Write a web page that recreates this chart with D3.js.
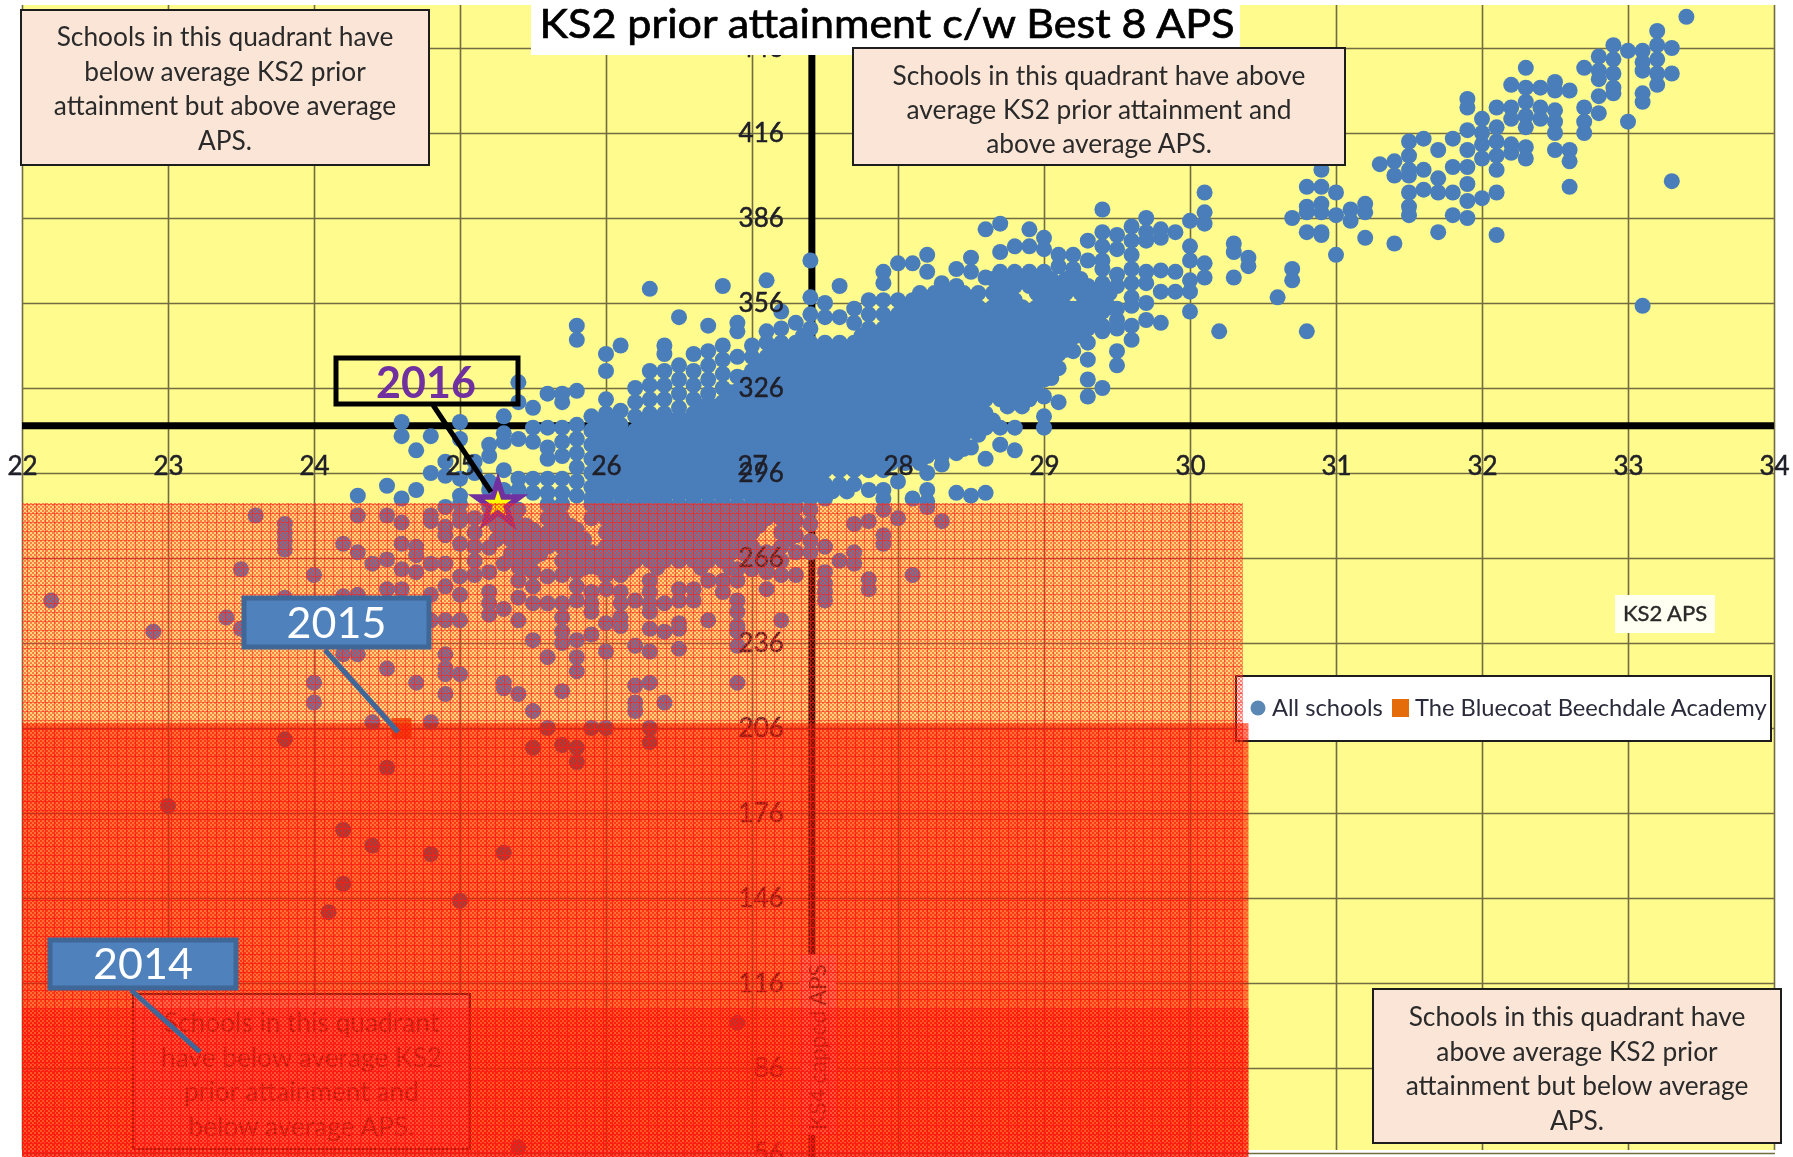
<!DOCTYPE html>
<html lang="en">
  <head>
    <meta charset="UTF-8">
    <title>KS2 prior attainment c/w Best 8 APS</title>
    <style>
html, body{
    margin: 0;
    padding: 0;
    background: #fff;
    overflow: hidden;
}
svg{
    display: block;
}
text{
    font-family: Lato, "Open Sans", sans-serif;
}
    </style>
  </head>
  <body>
    <script src="https://cdn.jsdelivr.net/npm/d3@7/dist/d3.min.js" charset="UTF-8"></script>
    <script>
var xTicks = [22, 23, 24, 25, 26, 27, 28, 29, 30, 31, 32, 33, 34];
var yTicks = [56, 86, 116, 146, 176, 206, 236, 266, 296, 326, 356, 386, 416, 446];
var averageKs2 = 27.41, averageAps = 312.7;
var academy2015 = [24.6, 206];
var academy2016 = [25.26, 285];
var bandTops = [285.4, 207.7, 107];
var bandEnds = [30.36, 30.4, 30.4];

// [KS2 APS, [capped APS ...]], below the red line
var lowerSchools = [
    [22.2, [251]], [22.9, [240]], [23.0, [178.5]], [23.4, [245]], [23.5, [262, 241]], [23.6, [281]],
    [23.8, [278, 275, 272, 269, 252, 202]], [24.0, [260, 222, 215]], [24.1, [141]],
    [24.2, [271, 252.5, 232, 170, 151]], [24.3, [281, 268, 253, 232]], [24.4, [264, 208, 164.5]],
    [24.5, [281, 265.5, 255, 227, 192]], [24.6, [278.5, 271, 262, 255]], [24.7, [270, 267, 261, 222]],
    [24.8, [281, 279, 264, 253, 244, 208, 161.5]], [24.9, [284, 277, 274, 264, 256, 244, 232, 227, 225, 218]],
    [25.0, [285, 281, 279, 271, 259.5, 253, 244, 225, 145]], [25.1, [280, 275, 270, 265, 260]],
    [25.2, [284, 280, 269.6, 261, 254, 250, 246]], [25.3, [284, 279, 274, 264, 248, 222, 220, 162]],
    [25.4, [283, 278, 273, 268, 263, 258, 252, 244, 218, 58]], [25.5, [276, 271, 266, 261, 256, 250, 237, 212, 199]],
    [25.6, [285, 280, 275, 270, 259.5, 250, 231, 206]], [25.7, [285, 280, 275, 270, 265, 260, 250, 245, 240, 236, 219, 200]],
    [25.8, [276, 271, 266, 261, 256, 251, 237, 231, 226, 199, 194]], [25.9, [285, 280, 268, 263, 254, 250, 247, 239, 206]],
    [26.0, [285, 280, 275, 270, 265, 260, 255, 243, 233, 206]], [26.1, [285, 280, 275, 270, 265, 260, 254, 250, 245, 242]],
    [26.2, [285, 280, 275, 270, 265, 251, 235, 221, 215, 212]], [26.3, [285, 280, 275, 270, 265, 258, 254, 250, 247, 241, 233, 222, 206, 201]],
    [26.4, [285, 280, 275, 270, 265, 250, 240, 215]], [26.5, [285, 280, 275, 270, 265, 255, 251, 243, 241, 234]],
    [26.6, [285, 280, 275, 270, 265, 255, 251]], [26.7, [285, 280, 275, 270, 265, 258, 244]],
    [26.8, [285, 280, 275, 270, 265, 258, 254]], [26.9, [285, 280, 275, 270, 262, 258, 251, 247, 242, 240, 235, 222, 102]],
    [27.0, [285, 280, 275, 270, 265, 262]], [27.1, [285, 280, 268, 263, 261, 255]], [27.2, [285, 280, 275, 270, 265, 260, 244]],
    [27.3, [284, 279, 274, 268, 260]], [27.4, [283, 278, 272, 268]], [27.5, [270, 261, 257, 254, 251]], [27.6, [265]],
    [27.7, [278, 268, 264]], [27.8, [279, 258.5, 255]], [27.9, [283, 274, 271]], [28.0, [280]], [28.1, [260]],
    [28.2, [284]], [28.3, [279]]
];

// between the 0.1 columns in the crowded part under the red line
var lowerCoreSchools = [
    [25.25, [277.5, 272.5]], [25.35, [282.5, 277.5, 272.5, 267.5]], [25.45, [277.5, 272.5, 267.5, 262.5]],
    [25.55, [272.5, 267.5]], [25.65, [282.5, 277.5, 272.5]], [25.75, [277.5, 272.5, 267.5, 262.5]],
    [25.85, [272.5, 267.5, 262.5]], [25.95, [282.5, 267.5, 262.5]], [26.05, [282.5, 277.5, 272.5, 267.5, 262.5]],
    [26.15, [282.5, 277.5, 272.5, 267.5, 262.5]], [26.25, [282.5, 277.5, 272.5, 267.5]], [26.35, [282.5, 277.5, 272.5, 267.5, 262.5]],
    [26.45, [282.5, 277.5, 272.5, 267.5]], [26.55, [282.5, 277.5, 272.5, 267.5]], [26.65, [282.5, 277.5, 272.5, 267.5, 262.5]],
    [26.75, [282.5, 277.5, 272.5, 267.5]], [26.85, [282.5, 277.5, 272.5, 267.5, 262.5]], [26.95, [282.5, 277.5, 272.5, 267.5]],
    [27.05, [282.5, 277.5, 267.5]], [27.15, [282.5, 267.5]], [27.25, [282.5, 277.5, 272.5]]
];

// the main band, above the red line
var mainSchools = [
    [24.3, [288]], [24.5, [291.5]], [24.6, [314, 309, 287]], [24.7, [304, 290]], [24.8, [309, 296]], [24.9, [300, 295]],
    [25.0, [314, 308, 294, 288]], [25.1, [300, 296]], [25.2, [306, 302, 293, 290]], [25.3, [316, 310, 307, 297, 290]],
    [25.4, [328, 321, 308, 294, 290]], [25.5, [319, 312, 307, 294, 289]], [25.6, [324, 312, 305, 301, 294, 289]],
    [25.7, [324, 321, 312, 307, 302, 294, 289]], [25.8, [348, 343, 325, 313, 308, 303, 298, 293, 288]],
    [25.9, [316, 311, 306, 301, 296, 291, 287]], [26.0, [338, 332, 322, 317, 312, 307, 302, 297, 292, 287]],
    [26.1, [341, 318, 313, 308, 303, 298, 293, 288]], [26.2, [326, 321, 316, 311, 306, 301, 296, 291, 287]],
    [26.3, [361, 332, 327, 322, 317, 312, 307, 302, 297, 292, 287]], [26.4, [341, 338, 332, 327, 322, 317, 312, 307, 302, 297, 292, 287]],
    [26.5, [351, 334, 329, 324, 319, 314, 309, 304, 299, 294, 289]], [26.6, [338, 332, 327, 322, 317, 312, 307, 302, 297, 292, 287]],
    [26.7, [348, 339, 334, 329, 324, 319, 314, 309, 304, 299, 294, 289]], [26.8, [362, 341, 336, 331, 326, 321, 316, 311, 306, 301, 296, 291, 287]],
    [26.9, [349, 346, 337, 330, 325, 320, 315, 310, 305, 300, 295, 290]], [27.0, [341, 337, 332, 327, 322, 317, 312, 307, 302, 297, 292, 287]],
    [27.1, [364, 346, 342, 337, 332, 327, 322, 317, 312, 307, 302, 297, 292, 287]], [27.2, [353, 347, 342, 337, 332, 327, 322, 317, 312, 307, 302, 297, 292, 287]],
    [27.3, [349, 342, 337, 332, 327, 322, 317, 312, 307, 302, 297, 292, 287]], [27.4, [371, 358, 352, 347, 342, 337, 332, 327, 322, 317, 312, 307, 302, 297, 292, 287]],
    [27.5, [356, 351, 342, 337, 332, 327, 322, 317, 312, 307, 302, 297, 292, 287]], [27.6, [362, 351, 342, 337, 332, 327, 322, 317, 312, 307, 302, 297, 292]],
    [27.7, [354, 349, 342, 337, 332, 327, 322, 317, 312, 307, 302, 297, 292]], [27.8, [357, 352, 347, 342, 337, 332, 327, 322, 317, 312, 307, 302, 297, 290]],
    [27.9, [367, 363, 357, 352, 347, 342, 337, 332, 327, 322, 317, 312, 307, 302, 297, 290, 287]],
    [28.0, [370, 357, 352, 347, 342, 337, 332, 327, 322, 317, 312, 307, 302, 293]], [28.1, [370, 357, 352, 347, 342, 337, 332, 327, 322, 317, 312, 307, 302, 287]],
    [28.2, [373, 367, 357, 352, 347, 342, 337, 332, 327, 322, 317, 312, 307, 302, 296, 290, 286]],
    [28.3, [363, 357, 352, 347, 342, 337, 332, 327, 322, 317, 312, 307, 302, 299]], [28.4, [368, 362, 357, 352, 347, 342, 337, 332, 327, 322, 317, 312, 307, 303, 289]],
    [28.5, [372, 367, 357, 352, 347, 342, 337, 332, 327, 322, 317, 312, 305, 288]], [28.6, [382, 365, 352, 347, 342, 337, 332, 327, 322, 317, 312, 301, 289]],
    [28.7, [384, 374, 367, 362, 357, 352, 347, 342, 337, 332, 327, 322, 312, 306]], [28.8, [376, 367, 362, 357, 352, 347, 342, 337, 332, 327, 322, 312, 304]],
    [28.9, [382, 376, 367, 362, 352, 347, 342, 337, 332, 327, 322]], [29.0, [379, 375, 367, 362, 357, 352, 347, 342, 337, 333, 329, 323, 316, 312]],
    [29.1, [373, 369, 362, 357, 352, 347, 342, 338, 333, 321]], [29.2, [373, 368, 363, 354, 349, 344, 339]],
    [29.3, [378, 371, 362, 357, 352, 347, 342, 336, 329, 323]], [29.4, [389, 381, 376, 371, 368, 363, 358, 353, 348, 346, 326]],
    [29.5, [380, 375, 366, 362, 354, 350, 347, 339, 334]], [29.6, [383, 378, 373, 368, 363, 358, 355, 348, 343]],
    [29.7, [386, 381, 378, 367, 363, 356, 350]], [29.8, [382, 379, 367.5, 360, 349]], [29.9, [381, 367, 360]],
    [30.0, [385, 376, 371, 364, 360, 353]], [30.1, [395, 388, 384, 370, 365]], [30.2, [346]], [30.3, [377, 374, 365]], [30.4, [372, 369]],
    [30.6, [358]], [30.7, [386, 368, 364]], [30.8, [397, 390, 388, 381, 346]], [30.9, [403, 397, 391, 388, 381, 380]],
    [31.0, [395, 387, 373]], [31.1, [389, 385]], [31.2, [391, 388, 379]], [31.3, [405]], [31.4, [406, 401, 377]],
    [31.5, [413, 408, 403, 401, 395, 390, 387]], [31.6, [414, 403, 396]], [31.7, [410, 400, 395, 381]], [31.8, [414, 404, 395, 387]],
    [31.9, [428, 425, 417, 410, 404, 398, 392, 386]], [32.0, [421, 416, 412, 407, 393]], [32.1, [425, 418, 413, 408, 403, 395, 380]],
    [32.2, [433, 425, 421, 412, 409]], [32.3, [439, 432, 427, 422, 418, 411, 407]], [32.4, [432, 425, 421]],
    [32.5, [434, 431, 424, 420, 416, 410]], [32.6, [431, 410, 406, 397]], [32.7, [439, 425, 420, 416]],
    [32.8, [443, 438, 435, 429, 423]], [32.9, [447, 442, 437, 432, 430]], [33.0, [445, 420]],
    [33.1, [445, 441, 438, 430, 427, 355]], [33.2, [452, 447, 442, 437, 433]], [33.3, [446, 437, 399]], [33.4, [457]]
];

// schools between the 0.1 columns in the solid middle of the band
var coreSchools = [
    [25.95, [289.5, 294.5, 299.5, 304.5, 309.5, 314.5]], [26.05, [289.5, 294.5, 299.5, 304.5, 309.5, 314.5]],
    [26.15, [289.5, 294.5, 299.5, 304.5, 309.5]], [26.25, [289.5, 294.5, 299.5, 304.5, 309.5, 314.5]],
    [26.35, [289.5, 294.5, 299.5, 304.5, 309.5, 314.5]], [26.45, [289.5, 294.5, 299.5, 304.5, 309.5, 314.5]],
    [26.55, [289.5, 294.5, 299.5, 304.5, 309.5, 314.5]], [26.65, [289.5, 294.5, 299.5, 304.5, 309.5, 314.5, 319.5]],
    [26.75, [289.5, 294.5, 299.5, 304.5, 309.5, 314.5, 319.5]], [26.85, [289.5, 294.5, 299.5, 304.5, 309.5, 314.5, 319.5, 324.5]],
    [26.95, [289.5, 294.5, 299.5, 304.5, 309.5, 314.5, 319.5, 324.5, 329.5]], [27.05, [289.5, 294.5, 299.5, 304.5, 309.5, 314.5, 319.5, 324.5, 329.5, 334.5]],
    [27.15, [289.5, 294.5, 299.5, 304.5, 309.5, 314.5, 319.5, 324.5, 329.5, 334.5, 339.5]], [27.25, [289.5, 294.5, 299.5, 304.5, 309.5, 314.5, 319.5, 324.5, 329.5, 334.5, 339.5]],
    [27.35, [289.5, 294.5, 299.5, 304.5, 309.5, 314.5, 319.5, 324.5, 329.5, 334.5, 339.5, 344.5]], [27.45, [289.5, 294.5, 299.5, 304.5, 309.5, 314.5, 319.5, 324.5, 329.5, 334.5, 339.5]],
    [27.55, [289.5, 299.5, 304.5, 309.5, 314.5, 319.5, 324.5, 329.5, 334.5, 339.5]], [27.65, [289.5, 299.5, 304.5, 309.5, 314.5, 319.5, 324.5, 329.5, 334.5, 339.5]],
    [27.75, [299.5, 304.5, 309.5, 314.5, 319.5, 324.5, 329.5, 334.5, 339.5, 344.5]], [27.85, [299.5, 304.5, 309.5, 314.5, 319.5, 324.5, 329.5, 334.5, 339.5, 344.5]],
    [27.95, [299.5, 304.5, 309.5, 314.5, 319.5, 324.5, 329.5, 334.5, 339.5, 344.5, 349.5]], [28.05, [299.5, 304.5, 309.5, 314.5, 319.5, 324.5, 329.5, 334.5, 339.5, 344.5, 349.5, 354.5]],
    [28.15, [299.5, 304.5, 309.5, 314.5, 319.5, 324.5, 329.5, 334.5, 339.5, 344.5, 349.5, 354.5, 359.5]], [28.25, [304.5, 309.5, 314.5, 319.5, 324.5, 329.5, 334.5, 339.5, 344.5, 349.5, 354.5, 359.5]],
    [28.35, [304.5, 309.5, 314.5, 319.5, 324.5, 329.5, 334.5, 339.5, 344.5, 349.5, 354.5, 359.5]], [28.45, [304.5, 309.5, 314.5, 319.5, 324.5, 329.5, 334.5, 339.5, 344.5, 349.5, 354.5, 359.5]],
    [28.55, [309.5, 314.5, 319.5, 324.5, 329.5, 334.5, 339.5, 344.5, 349.5, 354.5, 359.5]], [28.65, [314.5, 324.5, 329.5, 334.5, 339.5, 344.5, 349.5, 354.5, 359.5, 364.5]],
    [28.75, [319.5, 324.5, 329.5, 334.5, 339.5, 344.5, 349.5, 354.5, 359.5, 364.5]], [28.85, [319.5, 324.5, 329.5, 334.5, 339.5, 344.5, 349.5, 354.5, 364.5]],
    [28.95, [324.5, 329.5, 334.5, 339.5, 344.5, 349.5, 354.5, 359.5, 364.5]], [29.05, [329.5, 334.5, 339.5, 344.5, 349.5, 354.5, 359.5, 364.5]],
    [29.15, [339.5, 344.5, 349.5, 354.5, 359.5, 364.5]], [29.25, [344.5, 349.5, 354.5, 359.5, 364.5]], [29.35, [349.5, 354.5, 359.5]], [29.45, [354.5, 359.5]]
];

var quadrantTopLeft = ["Schools in this quadrant have", "below average KS2 prior", "attainment but  above average", "APS."];
var quadrantTopRight = ["Schools in this quadrant have above", "average KS2 prior attainment and", "above average APS."];
var quadrantBottomLeft = ["Schools in this quadrant", "have below average KS2", "prior attainment and", "below average APS."];
var quadrantBottomRight = ["Schools in this quadrant have", "above average KS2 prior", "attainment but below average", "APS."];

var width = 1793, height = 1157;
var xScale = d3.scaleLinear().domain([22, 34]).range([22, 1774]);
var yScale = d3.scaleLinear().domain([56, 446]).range([1153, 48]);

var svg = d3.select("body").append("svg")
                           .attr("width", width)
                           .attr("height", height);

function two_tone(defs, id, base, cell){
    var p = defs.append("pattern")
                .attr("id", id)
                .attr("patternUnits", "userSpaceOnUse")
                .attr("width", 4)
                .attr("height", 4);
    p.append("rect").attr("width", 4).attr("height", 4).attr("fill", base);
    p.append("rect").attr("width", 2).attr("height", 2).attr("fill", cell);
    p.append("rect").attr("x", 2).attr("y", 2).attr("width", 2).attr("height", 2).attr("fill", cell);
}

function make_patterns(){
    var defs = svg.append("defs");
    two_tone(defs, "band0", "rgba(255,70,40,0.2)", "rgba(255,50,30,0.55)");
    two_tone(defs, "band1", "rgb(255,180,155)", "rgb(255,130,100)");
    two_tone(defs, "band2", "rgba(255,30,10,0.3)", "rgba(255,20,10,0.7)");

    var mesh = defs.append("pattern")
                   .attr("id", "mesh")
                   .attr("patternUnits", "userSpaceOnUse")
                   .attr("width", 9)
                   .attr("height", 9);
    mesh.append("rect").attr("width", 1).attr("height", 9).attr("fill", "rgba(255,25,25,0.5)");
    mesh.append("rect").attr("width", 9).attr("height", 1).attr("fill", "rgba(255,25,25,0.5)");
}

function draw_text_box(lines, left, top, right, bottom, firstLine, lineGap, size){
    svg.append("rect")
       .attr("x", left)
       .attr("y", top)
       .attr("width", right - left)
       .attr("height", bottom - top)
       .attr("fill", "#fbe5d6")
       .attr("stroke", "#1d1d1d")
       .attr("stroke-width", 2);
    svg.selectAll(null)
       .data(lines)
       .enter().append("text")
       .attr("x", (left + right) / 2)
       .attr("y", function(d, i){ return firstLine + i * lineGap; })
       .attr("text-anchor", "middle")
       .attr("font-size", size)
       .attr("fill", "#2a2a2a")
       .text(function(d){ return d; });
}

function draw_grid(){
    svg.append("rect")
       .attr("x", 22)
       .attr("y", 5)
       .attr("width", 1753)
       .attr("height", 1145)
       .attr("fill", "#fffb8c");

    var xGrid = svg.append("g")
                   .attr("transform", "translate(0,1150)")
                   .call(d3.axisBottom(xScale).tickValues(xTicks).tickSize(-1145).tickFormat(""));
    var yGrid = svg.append("g")
                   .attr("transform", "translate(22,0)")
                   .call(d3.axisLeft(yScale).tickValues(yTicks).tickSize(-1753).tickFormat(""));
    [xGrid, yGrid].forEach(function(g){
        g.select(".domain").remove();
        g.selectAll("line").attr("stroke", "#716c42").attr("stroke-width", 1.6);
    });

    svg.append("line")
       .attr("x1", xScale(22)).attr("x2", xScale(34))
       .attr("y1", yScale(averageAps)).attr("y2", yScale(averageAps))
       .attr("stroke", "#000").attr("stroke-width", 7);
    svg.append("line")
       .attr("x1", xScale(averageKs2)).attr("x2", xScale(averageKs2))
       .attr("y1", 45).attr("y2", 1157)
       .attr("stroke", "#000").attr("stroke-width", 7);
}

function draw_schools(){
    var points = [];
    lowerSchools.concat(lowerCoreSchools, mainSchools, coreSchools).forEach(function(column){
        column[1].forEach(function(v){ points.push([column[0], v]); });
    });
    svg.append("g").selectAll("circle")
       .data(points)
       .enter().append("circle")
       .attr("cx", function(d){ return xScale(d[0]); })
       .attr("cy", function(d){ return yScale(d[1]); })
       .attr("r", 8)
       .attr("fill", "#4a7ebb");

    svg.append("rect")
       .attr("x", xScale(academy2015[0]) - 10)
       .attr("y", yScale(academy2015[1]) - 10)
       .attr("width", 20)
       .attr("height", 20)
       .attr("fill", "#e46c0a");

    svg.append("path")
       .attr("d", d3.symbol().type(d3.symbolStar).size(594))
       .attr("transform", "translate(" + xScale(academy2016[0]) + "," + yScale(academy2016[1]) + ")")
       .attr("fill", "#ffff00")
       .attr("stroke", "#7030a0")
       .attr("stroke-width", 5.5)
       .attr("stroke-miterlimit", 10);
}

function draw_tick_labels(){
    var xLabels = svg.append("g")
                     .attr("transform", "translate(0," + yScale(averageAps) + ")")
                     .call(d3.axisBottom(xScale).tickValues(xTicks).tickSize(0).tickPadding(31));
    var yLabels = svg.append("g")
                     .attr("transform", "translate(" + xScale(averageKs2) + ",0)")
                     .call(d3.axisLeft(yScale).tickValues(yTicks).tickSize(0).tickPadding(28));
    [xLabels, yLabels].forEach(function(g){
        g.select(".domain").remove();
        g.selectAll("text")
         .attr("font-size", 26)
         .attr("font-family", "Lato")
         .attr("fill", "#20202a")
         .attr("stroke", "#20202a")
         .attr("stroke-width", 0.5);
    });
}

function draw_legend(){
    svg.append("rect")
       .attr("x", 1615).attr("y", 595).attr("width", 100).attr("height", 38)
       .attr("fill", "#fffff2");
    svg.append("text")
       .attr("x", 1665).attr("y", 621)
       .attr("text-anchor", "middle")
       .attr("font-size", 22)
       .attr("fill", "#2a2a2a")
       .attr("stroke", "#2a2a2a")
       .attr("stroke-width", 0.4)
       .text("KS2 APS");

    svg.append("rect")
       .attr("x", 1236).attr("y", 676).attr("width", 535).attr("height", 65)
       .attr("fill", "#fff")
       .attr("stroke", "#1d1d1d")
       .attr("stroke-width", 2);
    svg.append("circle")
       .attr("cx", 1258).attr("cy", 708).attr("r", 7.5)
       .attr("fill", "#5b87b5");
    svg.append("text")
       .attr("x", 1272).attr("y", 716)
       .attr("font-size", 23.7)
       .attr("fill", "#2a2a3a")
       .text("All schools");
    svg.append("rect")
       .attr("x", 1392).attr("y", 699).attr("width", 17).attr("height", 18)
       .attr("fill", "#e46c0a");
    svg.append("text")
       .attr("x", 1415).attr("y", 716)
       .attr("font-size", 23.7)
       .attr("fill", "#2a2a3a")
       .text("The Bluecoat Beechdale Academy");
}

function draw_bands(){
    bandTops.forEach(function(top, i){
        var left = xScale(22), w = xScale(bandEnds[i]) - xScale(22), h = height - yScale(top);
        svg.append("rect")
           .attr("x", left).attr("y", yScale(top))
           .attr("width", w).attr("height", h)
           .attr("fill", "url(#band" + i + ")")
           .style("mix-blend-mode", i == 1 ? "multiply" : "normal");
        if(i == 1){
            svg.append("rect")
               .attr("x", left).attr("y", yScale(top))
               .attr("width", w).attr("height", h)
               .attr("fill", "rgba(255,40,15,0.35)");
        }
        svg.append("rect")
           .attr("x", left).attr("y", yScale(top))
           .attr("width", w).attr("height", h)
           .attr("fill", "url(#mesh)");
    });
}

function draw_callout(label, left, top, right, bottom, x1, y1, x2, y2){
    svg.append("line")
       .attr("x1", x1).attr("y1", y1).attr("x2", x2).attr("y2", y2)
       .attr("stroke", "#3f6797").attr("stroke-width", 5);
    svg.append("rect")
       .attr("x", left).attr("y", top)
       .attr("width", right - left).attr("height", bottom - top)
       .attr("fill", "#4f81bd")
       .attr("stroke", "#3f6797")
       .attr("stroke-width", 5);
    svg.append("text")
       .attr("x", (left + right) / 2).attr("y", (top + bottom) / 2 + 15)
       .attr("text-anchor", "middle")
       .attr("font-size", 43)
       .attr("fill", "#fff")
       .text(label);
}

function draw_title(){
    svg.append("rect")
       .attr("x", 531).attr("y", 0).attr("width", 709).attr("height", 55)
       .attr("fill", "#fff");
    svg.append("text")
       .attr("x", 887).attr("y", 38)
       .attr("text-anchor", "middle")
       .attr("font-size", 41)
       .attr("stroke", "#000")
       .attr("stroke-width", 0.7)
       .attr("textLength", 695)
       .attr("lengthAdjust", "spacingAndGlyphs")
       .attr("fill", "#000")
       .text("KS2 prior attainment c/w Best 8 APS");
}

make_patterns();
draw_grid();
draw_schools();
draw_tick_labels();

// this label and box sit under the red bands in the original
svg.append("rect")
   .attr("x", 800).attr("y", 955).attr("width", 36).attr("height", 180)
   .attr("fill", "#fff0f0");
svg.append("text")
   .attr("transform", "translate(826,1130) rotate(-90)")
   .attr("font-size", 23)
   .attr("fill", "#2a2a2a")
   .attr("textLength", 166)
   .attr("lengthAdjust", "spacingAndGlyphs")
   .text("KS4 capped APS");
draw_text_box(quadrantBottomLeft, 133, 994, 470, 1149, 1032, 34.5, 26.3);
draw_legend();
draw_bands();

draw_title();
draw_text_box(quadrantTopLeft, 21, 10, 429, 165, 46, 34.5, 26.3);
draw_text_box(quadrantTopRight, 853, 48, 1345, 165, 85, 34, 26.3);
draw_text_box(quadrantBottomRight, 1373, 989, 1781, 1143, 1026, 34.5, 26.3);

// 2016 box has no fill, the grid shows through it
svg.append("line")
   .attr("x1", 433).attr("y1", 405).attr("x2", 491).attr("y2", 492)
   .attr("stroke", "#000").attr("stroke-width", 5);
svg.append("rect")
   .attr("x", 336).attr("y", 358).attr("width", 182).attr("height", 46)
   .attr("fill", "none")
   .attr("stroke", "#000")
   .attr("stroke-width", 5);
svg.append("text")
   .attr("x", 426).attr("y", 398)
   .attr("text-anchor", "middle")
   .attr("font-size", 43)
   .attr("font-weight", "bold")
   .attr("fill", "#7030a0")
   .text("2016");

draw_callout("2015", 244, 598, 429, 647, 325, 650, 398, 732);
draw_callout("2014", 50, 940, 236, 988, 131, 990, 200, 1052);
    </script>
  </body>
</html>
